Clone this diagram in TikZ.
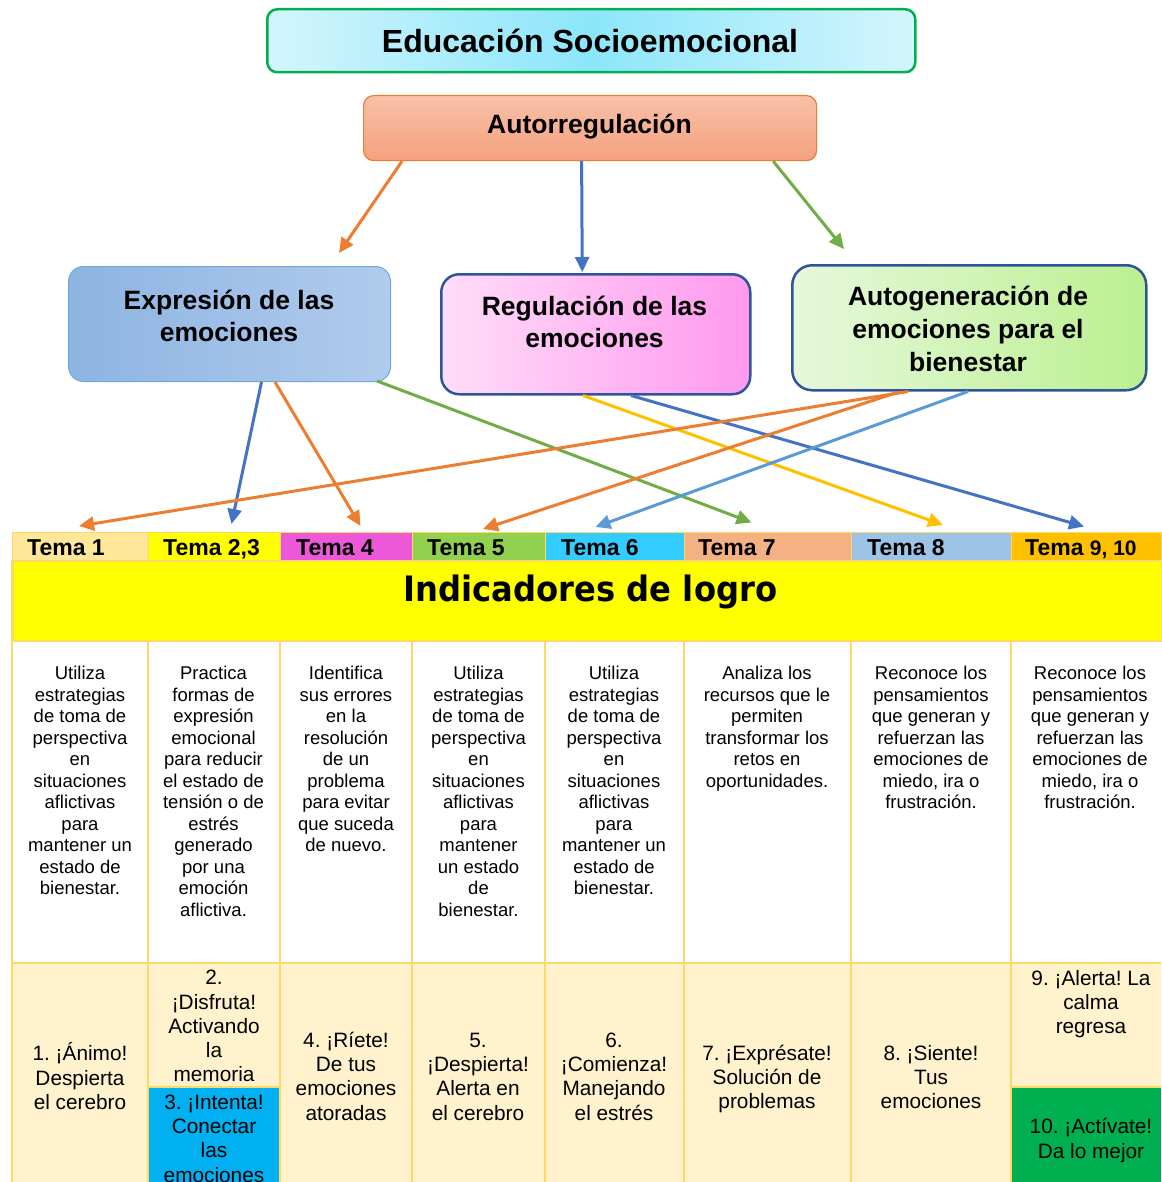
\documentclass[tikz,border=0pt]{standalone}
\usepackage{fontspec}
\setmainfont{Liberation Sans}
\newfontfamily\comicfont{DejaVu Sans}
\usetikzlibrary{arrows.meta,calc}
\frenchspacing
\definecolor{gridc}{HTML}{FFD966}
\definecolor{corange}{HTML}{ED7D31}
\definecolor{cblue}{HTML}{4472C4}
\definecolor{cgreen}{HTML}{70AD47}
\definecolor{cyellow}{HTML}{FFC000}
\definecolor{clblue}{HTML}{5B9BD5}
\definecolor{navy}{HTML}{2F5597}
\definecolor{titleedge}{HTML}{D4F5FD}
\definecolor{titlemid}{HTML}{8CE6FA}
\definecolor{titleborder}{HTML}{00B050}
\definecolor{autotop}{HTML}{F8C1A8}
\definecolor{autobot}{HTML}{F4A17F}
\definecolor{expl}{HTML}{8DB4E2}
\definecolor{expr}{HTML}{B1CBEC}
\definecolor{expborder}{HTML}{6FA8DC}
\definecolor{regl}{HTML}{FFDDF9}
\definecolor{regr}{HTML}{FF99EE}
\definecolor{genl}{HTML}{E6F8DC}
\definecolor{genr}{HTML}{BBF090}
\definecolor{hA}{HTML}{FFE699}
\definecolor{hB}{HTML}{FFFF00}
\definecolor{hC}{HTML}{EC58D8}
\definecolor{hD}{HTML}{92D050}
\definecolor{hE}{HTML}{33CCFF}
\definecolor{hF}{HTML}{F4B183}
\definecolor{hG}{HTML}{9DC3E6}
\definecolor{hH}{HTML}{FFC000}
\definecolor{cream}{HTML}{FFF2CC}
\definecolor{cellblue}{HTML}{00B0F0}
\definecolor{cellgreen}{HTML}{00B050}
\newcommand{\indstrut}{\rule{0pt}{17pt}}
\newcommand{\botstrut}{\rule{0pt}{20pt}}
\newcommand{\boxstrut}{\rule{0pt}{23pt}}
\begin{document}
\frenchspacing
\begin{tikzpicture}[x=1pt,y=-1pt,
  boxtext/.style={anchor=north, inner sep=0pt, align=center, font=\fontsize{26.5}{32.7}\selectfont\bfseries},
  arr/.style={line width=3pt, -{Triangle[length=15pt,width=14pt]}},
  hdr/.style={anchor=north west, inner sep=0pt, minimum height=28pt, draw=gridc, line width=1pt},
  hdrtext/.style={anchor=base west, inner sep=0pt, font=\fontsize{23}{23}\selectfont\bfseries},
  ind/.style={anchor=north, inner sep=0pt, align=center, font=\fontsize{18.5}{21.5}\selectfont},
  bot/.style={anchor=north, inner sep=0pt, align=center, font=\fontsize{20.8}{24.3}\selectfont},
  grid/.style={draw=gridc, line width=1.5pt}]
\useasboundingbox (0,0) rectangle (1161,1182);

% ---------- top boxes ----------
\node[anchor=north west, inner sep=0pt, minimum width=648pt, minimum height=63pt,
  rounded corners=10pt, draw=titleborder, line width=2.5pt,
  left color=titleedge, right color=titleedge, middle color=titlemid] (title) at (266,8) {};
\node[anchor=base, inner sep=0pt, font=\fontsize{32}{32}\selectfont\bfseries] (titletxt) at (590,52.5) {Educación Socioemocional};

\node[anchor=north west, inner sep=0pt, minimum width=453pt, minimum height=65pt,
  rounded corners=10pt, draw=corange, line width=1.2pt,
  top color=autotop, bottom color=autobot] (a) at (363,95) {};
\node[anchor=base, inner sep=0pt, font=\fontsize{26.5}{26.5}\selectfont\bfseries] (atxt) at (589.5,134) {Autorregulación};

\node[anchor=north west, inner sep=0pt, minimum width=322pt, minimum height=115pt,
  rounded corners=15pt, draw=expborder, line width=1pt,
  left color=expl, right color=expr] (e) at (68,266) {};
\node[boxtext] (etxt) at (229,286) {\boxstrut Expresión de las\\emociones};

\node[anchor=north west, inner sep=0pt, minimum width=309pt, minimum height=120pt,
  rounded corners=18pt, draw=navy, line width=2.5pt,
  left color=regl, right color=regr] (r) at (440,273) {};
\node[boxtext] (rtxt) at (594.5,292) {\boxstrut Regulación de las\\emociones};

\node[anchor=north west, inner sep=0pt, minimum width=354pt, minimum height=125pt,
  rounded corners=20pt, draw=navy, line width=2.5pt,
  left color=genl, right color=genr] (g) at (791,264) {};
\node[boxtext] (gtxt) at (968,282.7) {\boxstrut Autogeneración de\\emociones para el\\bienestar};

% ---------- table ----------
\node[hdr, fill=hA, minimum width=136pt] (t1) at (12,532) {};
\node[hdr, fill=hB, minimum width=132pt] (t2) at (148,532) {};
\node[hdr, fill=hC, minimum width=132pt] (t3) at (280,532) {};
\node[hdr, fill=hD, minimum width=133pt] (t4) at (412,532) {};
\node[hdr, fill=hE, minimum width=139pt] (t5) at (545,532) {};
\node[hdr, fill=hF, minimum width=167pt] (t6) at (684,532) {};
\node[hdr, fill=hG, minimum width=160pt] (t7) at (851,532) {};
\node[hdr, fill=hH, minimum width=150pt] (t8) at (1011,532) {};
\node[hdrtext] (t1txt) at (27,555) {Tema 1};
\node[hdrtext] (t2txt) at (163,555) {Tema 2,3};
\node[hdrtext] (t3txt) at (296,555) {Tema 4};
\node[hdrtext] (t4txt) at (427,555) {Tema 5};
\node[hdrtext] (t5txt) at (561,555) {Tema 6};
\node[hdrtext] (t6txt) at (698,555) {Tema 7};
\node[hdrtext] (t7txt) at (867,555) {Tema 8};
\node[hdrtext] (t8txt) at (1025,555) {Tema {\fontsize{21}{21}\selectfont 9, 10}};

\node[anchor=north west, inner sep=0pt, minimum width=1149pt, minimum height=80pt,
  fill=hB, draw=gridc, line width=1.5pt] (indrow) at (12,560) {};
\node[anchor=base, inner sep=0pt] (indtxt) at (590.5,601.5)
  {\scalebox{0.92}[1]{\comicfont\bfseries\fontsize{35}{35}\selectfont Indicadores de logro}};

\fill[cream] (12,963) rectangle (1161,1182);
\fill[cellblue] (148,1087) rectangle (280,1182);
\fill[cellgreen] (1011,1087) rectangle (1161,1182);
\draw[grid] (12,560) -- (12,1182);
\foreach \xx in {148,280,412,545,684,851,1011} { \draw[grid] (\xx,640) -- (\xx,1182); }
\draw[grid] (12,963) -- (1161,963);
\draw[grid] (148,1087) -- (280,1087);
\draw[grid] (1011,1087) -- (1161,1087);

% indicator texts
\node[ind] (i1) at (80,662.5) {\indstrut Utiliza\\estrategias\\de toma de\\perspectiva\\en\\situaciones\\aflictivas\\para\\mantener un\\estado de\\bienestar.};
\node[ind] (i2) at (213.5,662.5) {\indstrut Practica\\formas de\\expresión\\emocional\\para reducir\\el estado de\\tensión o de\\estrés\\generado\\por una\\emoción\\aflictiva.};
\node[ind] (i3) at (346,662.5) {\indstrut Identifica\\sus errores\\en la\\resolución\\de un\\problema\\para evitar\\que suceda\\de nuevo.};
\node[ind] (i4) at (478.5,662.5) {\indstrut Utiliza\\estrategias\\de toma de\\perspectiva\\en\\situaciones\\aflictivas\\para\\mantener\\un estado\\de\\bienestar.};
\node[ind] (i5) at (614,662.5) {\indstrut Utiliza\\estrategias\\de toma de\\perspectiva\\en\\situaciones\\aflictivas\\para\\mantener un\\estado de\\bienestar.};
\node[ind] (i6) at (767,662.5) {\indstrut Analiza los\\recursos que le\\permiten\\transformar los\\retos en\\oportunidades.};
\node[ind] (i7) at (931,662.5) {\indstrut Reconoce los\\pensamientos\\que generan y\\refuerzan las\\emociones de\\miedo, ira o\\frustración.};
\node[ind] (i8) at (1090,662.5) {\indstrut Reconoce los\\pensamientos\\que generan y\\refuerzan las\\emociones de\\miedo, ira o\\frustración.};

% bottom texts
\node[bot] (b1) at (80,1040.5) {\botstrut 1. ¡Ánimo!\\Despierta\\el cerebro};
\node[bot] (b2) at (214,964.5) {\botstrut 2.\\¡Disfruta!\\Activando\\la\\memoria};
\node[bot] (b3) at (214,1089) {\botstrut 3. ¡Intenta!\\Conectar\\las\\emociones};
\node[bot] (b4) at (346,1027) {\botstrut 4. ¡Ríete!\\De tus\\emociones\\atoradas};
\node[bot] (b5) at (478,1027) {\botstrut 5.\\¡Despierta!\\Alerta en\\el cerebro};
\node[bot] (b6) at (614,1027) {\botstrut 6.\\¡Comienza!\\Manejando\\el estrés};
\node[bot] (b7) at (767,1040) {\botstrut 7. ¡Exprésate!\\Solución de\\problemas};
\node[bot] (b8) at (931,1040) {\botstrut 8. ¡Siente!\\Tus\\emociones};
\node[bot] (b9) at (1091,965) {\botstrut 9. ¡Alerta! La\\calma\\regresa};
\node[bot] (b10) at (1091,1113.5) {\botstrut 10. ¡Actívate!\\Da lo mejor};

% ---------- connectors ----------
\draw[arr, corange] ([xshift=39pt]a.south west) -- ([xshift=271pt,yshift=13pt]e.north west);
\draw[arr, cblue] ([xshift=-8.5pt]a.south) -- ([xshift=-13.5pt,yshift=1pt]r.north);
\draw[arr, cgreen] ([xshift=-44pt]a.south east) -- ([xshift=53pt,yshift=15pt]g.north west);

\draw[arr, cblue] ([xshift=193.5pt]e.south west) -- ([xshift=83.5pt,yshift=8pt]t2.north west);
\draw[arr, corange] ([xshift=207pt]e.south west) -- ([xshift=80.5pt,yshift=6pt]t3.north west);
\draw[arr, cgreen] ([xshift=309pt,yshift=1pt]e.south west) -- ([xshift=67.5pt,yshift=9.5pt]t6.north west);

\draw[arr, cyellow] ([xshift=143pt]r.south west) -- ([xshift=92pt,yshift=7pt]t7.north west);
\draw[arr, cblue] ([xshift=191pt]r.south west) -- ([xshift=73pt,yshift=5.5pt]t8.north west);

\draw[arr, corange] ([xshift=117pt]g.south west) -- ([xshift=67pt,yshift=6pt]t1.north west);
\draw[arr, corange] ([xshift=106pt,yshift=-1pt]g.south west) -- ([xshift=71pt,yshift=3pt]t4.north west);
\draw[arr, clblue] ([xshift=177pt]g.south west) -- ([xshift=50.5pt,yshift=5pt]t5.north west);
\end{tikzpicture}
\end{document}
